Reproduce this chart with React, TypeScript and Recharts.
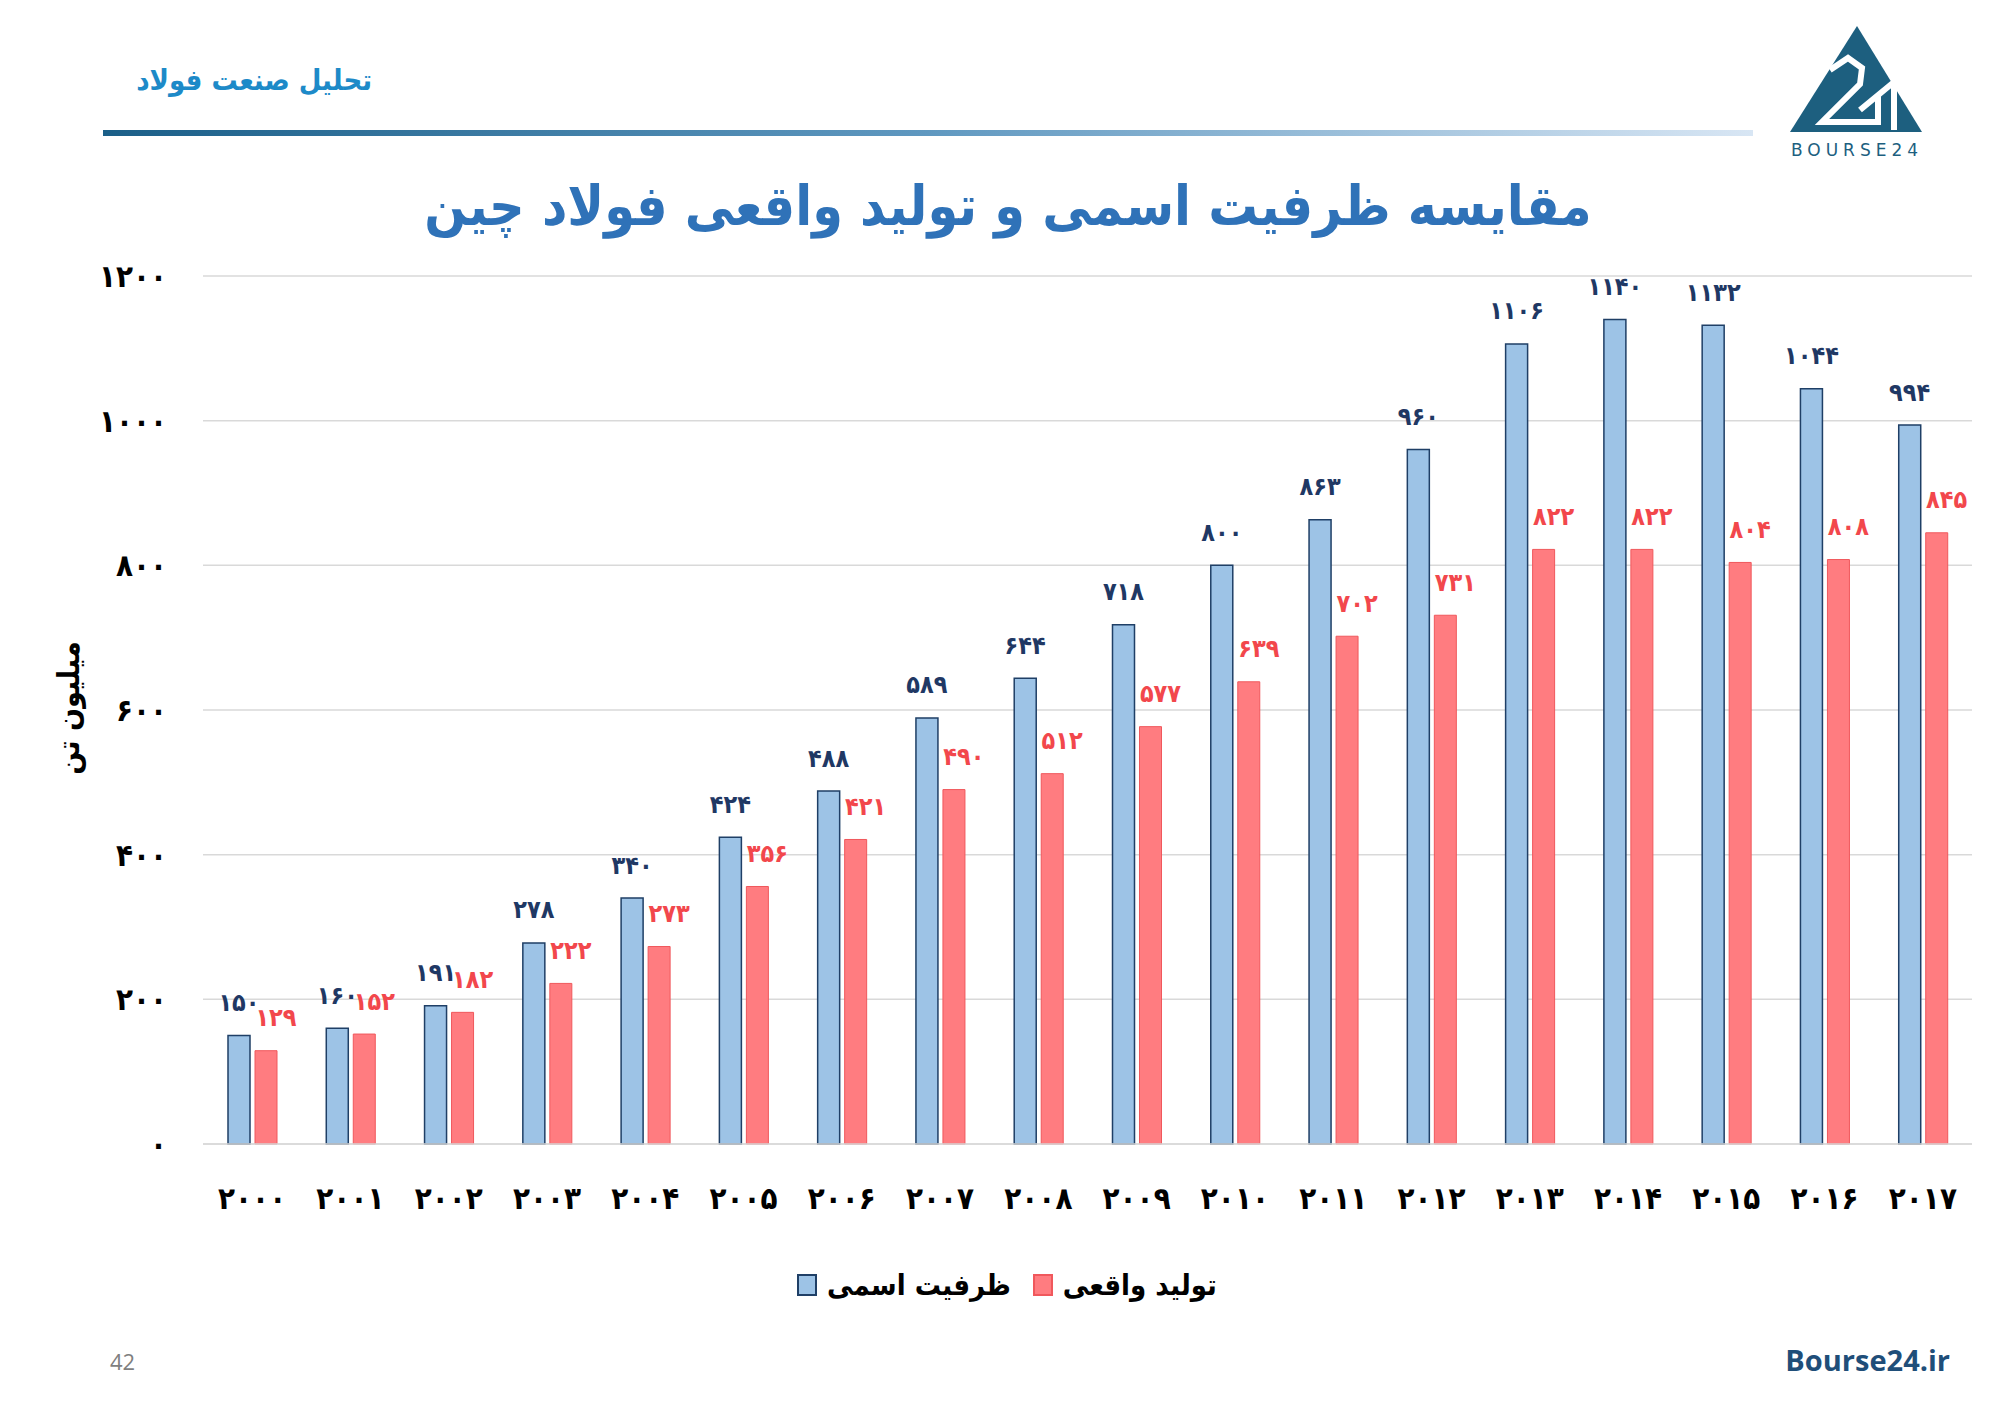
import { BarChart, Bar, XAxis, YAxis, CartesianGrid, Legend, LabelList } from 'recharts';

const years = [
  '2000', '2001', '2002', '2003', '2004', '2005', '2006', '2007', '2008',
  '2009', '2010', '2011', '2012', '2013', '2014', '2015', '2016', '2017',
];
const capacity = [150, 160, 191, 278, 340, 424, 488, 589, 644, 718, 800, 863, 960, 1106, 1140, 1132, 1044, 994];
const production = [129, 152, 182, 222, 273, 356, 421, 490, 512, 577, 639, 702, 731, 822, 822, 804, 808, 845];
const yTicks = [0, 200, 400, 600, 800, 1000, 1200];
const legendOrder = ['capacity', 'production'];

const chartData = years.map((y, i) => ({ year: y, capacity: capacity[i], production: production[i] }));

const FONT = "'DejaVu Sans Condensed', 'DejaVu Sans', sans-serif";
const BLUE_FILL = '#9dc3e6';
const BLUE_LINE = '#1f3f66';
const RED_FILL = '#ff7c80';
const RED_LINE = '#f0585c';

const fa = (v: number | string) => String(v).replace(/\d/g, (d) => '۰۱۲۳۴۵۶۷۸۹'[Number(d)]);

function XTick({ x, y, payload }: any) {
  return (
    <text x={x} y={y + 54} textAnchor="middle" dominantBaseline="central"
      fontFamily={FONT} fontWeight="bold" fontSize={31} fill="#000">
      {fa(payload.value)}
    </text>
  );
}

function YTick({ x, y, payload }: any) {
  return (
    <text x={x} y={y} textAnchor="end" dominantBaseline="central"
      fontFamily={FONT} fontWeight="bold" fontSize={31} fill="#000">
      {fa(payload.value)}
    </text>
  );
}

const barLabel = (color: string, dx: number) => (p: any) => (
  <text x={p.x + p.width / 2 + dx} y={p.y - 33} textAnchor="middle" dominantBaseline="central"
    fontFamily={FONT} fontWeight="bold" fontSize={25} fill={color}>
    {fa(p.value)}
  </text>
);

function LegendBox({ payload }: any) {
  const items = [...(payload || [])].sort(
    (a: any, b: any) => legendOrder.indexOf(a.dataKey) - legendOrder.indexOf(b.dataKey),
  );
  return (
    <div style={{ display: 'flex', justifyContent: 'center', alignItems: 'center', gap: 22, fontFamily: FONT, direction: 'ltr', paddingLeft: 14 }}>
      {items.map((e: any) => (
        <div key={e.value} style={{ display: 'flex', alignItems: 'center', gap: 10 }}>
          <span style={{
            width: 16, height: 18, background: e.payload.fill,
            border: `2px solid ${e.payload.stroke}`, display: 'inline-block',
          }} />
          <span style={{ fontSize: 29, fontWeight: 'bold', color: '#000', direction: 'rtl' }}>{e.value}</span>
        </div>
      ))}
    </div>
  );
}

function Logo() {
  return (
    <svg width={200} height={160} style={{ position: 'absolute', left: 1760, top: 10 }}>
      <polygon points="97,16 30,122 162,122" fill="#1d5f7f" />
      <polyline points="70,60 88,48 102,58 100,74 62,112 118,112 118,84" fill="none" stroke="#fff" strokeWidth={6} />
      <polyline points="100,100 134,72 134,120" fill="none" stroke="#fff" strokeWidth={6} />
      <text x={97} y={146} textAnchor="middle" fontFamily="'DejaVu Sans', sans-serif" fontSize={17}
        letterSpacing={5} fill="#1d5f7f">BOURSE24</text>
    </svg>
  );
}

export default function App() {
  return (
    <div style={{ position: 'absolute', left: 0, top: 0, width: 2000, height: 1414, background: '#fff', overflow: 'hidden' }}>
      <BarChart width={2000} height={1414} data={chartData}
        margin={{ top: 276, right: 28, left: 0, bottom: 210 }} barSize={22} barGap={5}>
        <CartesianGrid vertical={false} stroke="#d9d9d9" strokeWidth={1.5} />
        <XAxis dataKey="year" tick={<XTick />} tickLine={false} tickSize={0} tickMargin={0}
          axisLine={{ stroke: '#d9d9d9', strokeWidth: 1.5 }} height={60} interval={0} />
        <YAxis domain={[0, 1200]} ticks={yTicks} tick={<YTick />} tickLine={false} tickSize={0}
          tickMargin={36} axisLine={false} width={203} interval={0} />
        <Legend layout="horizontal" verticalAlign="middle" align="center" content={<LegendBox />}
          wrapperStyle={{ top: 1268, left: 0, width: 2000 }} />
        <Bar dataKey="capacity" name="ظرفیت اسمی" fill={BLUE_FILL} stroke={BLUE_LINE} strokeWidth={1.5}
          isAnimationActive={false}>
          <LabelList dataKey="capacity" content={barLabel('#1f3864', 0)} />
        </Bar>
        <Bar dataKey="production" name="تولید واقعی" fill={RED_FILL} stroke={RED_LINE} strokeWidth={1}
          isAnimationActive={false}>
          <LabelList dataKey="production" content={barLabel('#f2474c', 10)} />
        </Bar>
      </BarChart>

      <div style={{
        position: 'absolute', left: 110, top: 63, width: 262, textAlign: 'right', direction: 'rtl',
        fontFamily: FONT, fontWeight: 'bold', fontSize: 29, color: '#1d8ac8',
      }}>تحلیل صنعت فولاد</div>

      <div style={{
        position: 'absolute', left: 103, top: 130, width: 1650, height: 6,
        background: 'linear-gradient(to right, #1b5f88, #5f98c0 50%, #d8e6f4)',
      }} />

      <Logo />

      <div style={{
        position: 'absolute', left: 0, top: 170, width: 2016, textAlign: 'center', direction: 'rtl',
        fontFamily: FONT, fontWeight: 'bold', fontSize: 55, color: '#2f72b8', lineHeight: '72px',
      }}>مقایسه ظرفیت اسمی و تولید واقعی فولاد چین</div>

      <div style={{
        position: 'absolute', left: 68, top: 708, transform: 'translate(-50%, -50%) rotate(-90deg)',
        fontFamily: FONT, fontWeight: 'bold', fontSize: 30, color: '#000', direction: 'rtl', whiteSpace: 'nowrap',
      }}>میلیون تن</div>

      <div style={{
        position: 'absolute', left: 110, top: 1346, fontFamily: "'Open Sans', sans-serif", fontSize: 22, color: '#7f7f7f',
      }}>42</div>

      <div style={{
        position: 'absolute', right: 50, top: 1340, fontFamily: "'Open Sans', sans-serif", fontWeight: 'bold',
        fontSize: 29, color: '#1f4e79',
      }}>Bourse24.ir</div>
    </div>
  );
}
